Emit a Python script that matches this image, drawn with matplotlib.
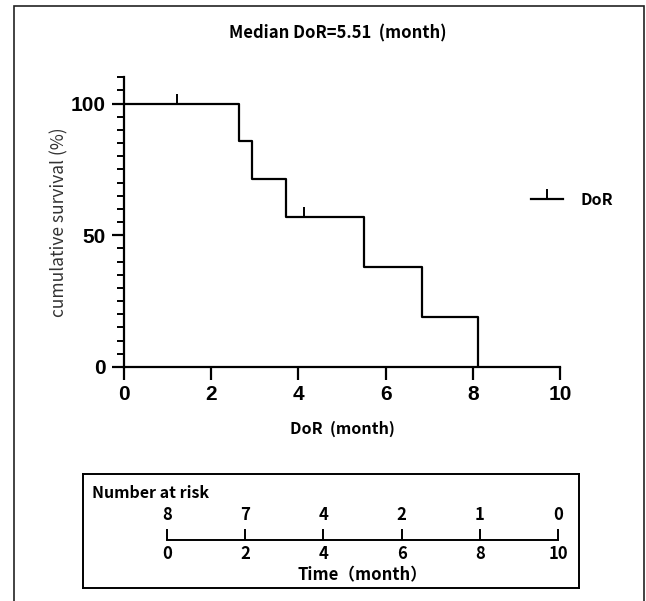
import matplotlib.pyplot as plt
import matplotlib.transforms as mtransforms
from matplotlib.patches import Rectangle

# step curve (time in months, survival in %)
step_times = [0, 2.64, 2.94, 3.71, 5.51, 6.84, 8.12]
step_surv = [100, 85.7, 71.4, 57.1, 38.1, 19.0, 0]
# censored observations
cens_times = [1.21, 4.13]
cens_surv = [100, 57.1]
# number at risk table
risk_times = [0, 2, 4, 6, 8, 10]
risk_counts = [8, 7, 4, 2, 1, 0]

W, H = 646, 601
fig = plt.figure(figsize=(W / 100, H / 100), dpi=100)

def fx(px):
    return px / W

def fy(py):
    return 1 - py / H

cjk = ['Noto Sans CJK SC', 'DejaVu Sans']
arial = ['Liberation Sans', 'DejaVu Sans']

# outer frame
fig.patches.append(Rectangle((fx(14), -0.01), fx(644) - fx(14), fy(6) + 0.01,
                             transform=fig.transFigure, fill=False,
                             edgecolor='#222222', linewidth=1.2))

# ---- survival plot ----
ax = fig.add_axes([fx(124), fy(367), fx(560) - fx(124), fy(77.3) - fy(367)])
line, = ax.step(step_times, step_surv, where='post', color='black', lw=1.6)
cens, = ax.plot(cens_times, cens_surv, linestyle='none', marker=2,
                markersize=7, markeredgewidth=1.4, color='black')
ax.set_xlim(0, 10)
ax.set_ylim(0, 110)
ax.set_xticks(risk_times)
ax.set_yticks([0, 50, 100])
ax.set_yticks(range(0, 111, 5), minor=True)
for s in ['top', 'right']:
    ax.spines[s].set_visible(False)
for s in ['left', 'bottom']:
    ax.spines[s].set_linewidth(1.6)
ax.tick_params(axis='both', which='major', direction='out', length=9, width=1.6,
               labelsize=15, pad=4)
ax.tick_params(axis='y', which='minor', direction='out', length=5, width=1.4)
for lab in ax.get_xticklabels() + ax.get_yticklabels():
    lab.set_family(arial)
    lab.set_fontweight('bold')
ax.set_xlabel('DoR  (month)', family=cjk, fontweight='bold', fontsize=11.5,
              labelpad=12)
ax.set_ylabel('cumulative survival (%)', family=cjk, fontsize=12.5,
              color='#333333', labelpad=2)
fig.text(0.5 * (fx(230) + fx(445)), fy(33), 'Median DoR=5.51  (month)',
         ha='center', va='center', family=cjk, fontweight='bold', fontsize=12)

ax.legend([(line, cens)], ['DoR'], loc='center left', frameon=False,
          bbox_to_anchor=(fx(531), fy(200)), bbox_transform=fig.transFigure,
          borderpad=0, borderaxespad=0, handlelength=2.0, handletextpad=1.1,
          prop={'family': cjk, 'weight': 'bold', 'size': 11.5})

# ---- number at risk box ----
box = fig.add_axes([fx(83), fy(588), fx(579) - fx(83), fy(474) - fy(588)])
box.set_xticks([])
box.set_yticks([])
for s in box.spines.values():
    s.set_linewidth(1.4)
box.text(fx(92), fy(493), 'Number at risk', transform=fig.transFigure,
         ha='left', va='center', family=cjk, fontweight='bold', fontsize=11.5)

tl = fig.add_axes([fx(167), fy(539.5), fx(558) - fx(167), 0.02])
tl.patch.set_alpha(0)
tl.set_xlim(0, 10)
tl.set_yticks([])
for s in ['top', 'right', 'left']:
    tl.spines[s].set_visible(False)
tl.spines['bottom'].set_linewidth(1.4)
tl.set_xticks(risk_times)
tl.tick_params(axis='x', direction='in', length=8, width=1.4, labelsize=12, pad=4)
for lab in tl.get_xticklabels():
    lab.set_family(cjk)
    lab.set_fontweight('bold')
trans = mtransforms.blended_transform_factory(tl.transData, fig.transFigure)
for t, n in zip(risk_times, risk_counts):
    tl.text(t, fy(515), str(n), transform=trans, ha='center', va='center',
            family=cjk, fontweight='bold', fontsize=12)
tl.set_xlabel('Time（month）', family=cjk, fontweight='bold', fontsize=12,
              labelpad=2)

fig.savefig('out.png', dpi=100)
